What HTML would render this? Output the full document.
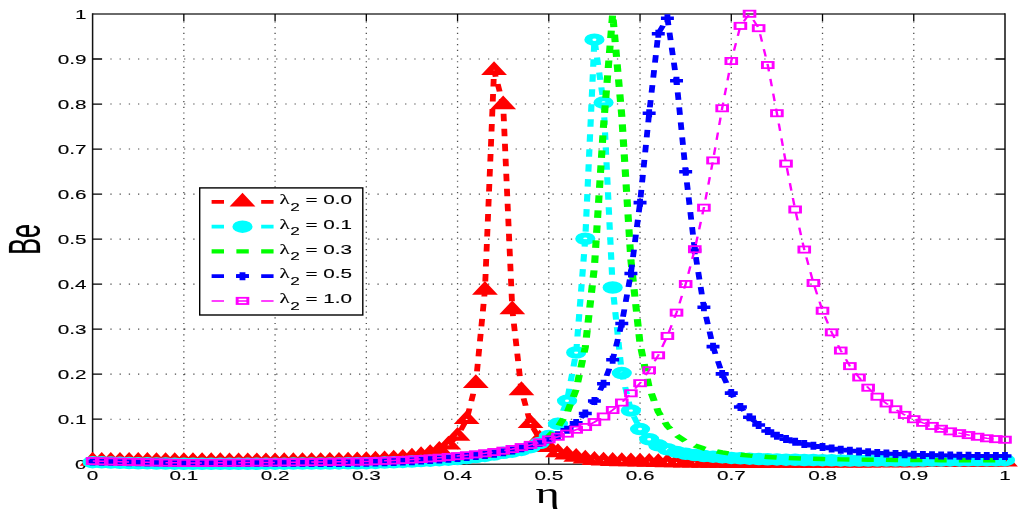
<!DOCTYPE html>
<html><head><meta charset="utf-8"><title>Be vs eta</title>
<style>
html,body{margin:0;padding:0;background:#fff;}
body{width:1024px;height:521px;overflow:hidden;}
svg{display:block}
text{font-family:"Liberation Sans",sans-serif;fill:#000;stroke:#000;stroke-width:0.12px}
.sym{font-family:"Liberation Serif",serif}
</style></head><body>
<svg width="1024" height="521" viewBox="0 0 1024 521">
<rect width="1024" height="521" fill="#fff"/>
<defs><clipPath id="ax"><rect x="57.160" y="13.4" width="563.210" height="458.2"/></clipPath></defs>

<g stroke="#000" stroke-opacity="0.7" fill="none"><line x1="183.84" y1="21.34" x2="183.84" y2="457.2" stroke-dasharray="1.2 4.49" stroke-width="1.3"/><line x1="110.35" y1="419.18" x2="995.0" y2="419.18" stroke-dasharray="1.3 7.91" stroke-width="1.1"/><line x1="275.08" y1="21.34" x2="275.08" y2="457.2" stroke-dasharray="1.2 4.49" stroke-width="1.3"/><line x1="110.35" y1="374.16" x2="995.0" y2="374.16" stroke-dasharray="1.3 7.91" stroke-width="1.1"/><line x1="366.32" y1="21.34" x2="366.32" y2="457.2" stroke-dasharray="1.2 4.49" stroke-width="1.3"/><line x1="110.35" y1="329.14" x2="995.0" y2="329.14" stroke-dasharray="1.3 7.91" stroke-width="1.1"/><line x1="457.56" y1="21.34" x2="457.56" y2="457.2" stroke-dasharray="1.2 4.49" stroke-width="1.3"/><line x1="110.35" y1="284.12" x2="995.0" y2="284.12" stroke-dasharray="1.3 7.91" stroke-width="1.1"/><line x1="548.80" y1="21.34" x2="548.80" y2="457.2" stroke-dasharray="1.2 4.49" stroke-width="1.3"/><line x1="110.35" y1="239.10" x2="995.0" y2="239.10" stroke-dasharray="1.3 7.91" stroke-width="1.1"/><line x1="640.04" y1="21.34" x2="640.04" y2="457.2" stroke-dasharray="1.2 4.49" stroke-width="1.3"/><line x1="110.35" y1="194.08" x2="995.0" y2="194.08" stroke-dasharray="1.3 7.91" stroke-width="1.1"/><line x1="731.28" y1="21.34" x2="731.28" y2="457.2" stroke-dasharray="1.2 4.49" stroke-width="1.3"/><line x1="110.35" y1="149.06" x2="995.0" y2="149.06" stroke-dasharray="1.3 7.91" stroke-width="1.1"/><line x1="822.52" y1="21.34" x2="822.52" y2="457.2" stroke-dasharray="1.2 4.49" stroke-width="1.3"/><line x1="110.35" y1="104.04" x2="995.0" y2="104.04" stroke-dasharray="1.3 7.91" stroke-width="1.1"/><line x1="913.76" y1="21.34" x2="913.76" y2="457.2" stroke-dasharray="1.2 4.49" stroke-width="1.3"/><line x1="110.35" y1="59.02" x2="995.0" y2="59.02" stroke-dasharray="1.3 7.91" stroke-width="1.1"/></g>
<g stroke="#111" stroke-width="1.5" fill="none"><path d="M92.6 14.0H1005.0M92.6 464.2H1005.0" stroke="#3a3a3a"/><path d="M92.6 13.3V464.9M1005.0 13.3V464.9"/><path stroke-width="1.3" stroke="#000" d="M183.84 464.2v-7M183.84 14.0v7M92.6 419.18h9.5M1005.0 419.18h-9.5"/><path stroke-width="1.3" stroke="#000" d="M275.08 464.2v-7M275.08 14.0v7M92.6 374.16h9.5M1005.0 374.16h-9.5"/><path stroke-width="1.3" stroke="#000" d="M366.32 464.2v-7M366.32 14.0v7M92.6 329.14h9.5M1005.0 329.14h-9.5"/><path stroke-width="1.3" stroke="#000" d="M457.56 464.2v-7M457.56 14.0v7M92.6 284.12h9.5M1005.0 284.12h-9.5"/><path stroke-width="1.3" stroke="#000" d="M548.80 464.2v-7M548.80 14.0v7M92.6 239.10h9.5M1005.0 239.10h-9.5"/><path stroke-width="1.3" stroke="#000" d="M640.04 464.2v-7M640.04 14.0v7M92.6 194.08h9.5M1005.0 194.08h-9.5"/><path stroke-width="1.3" stroke="#000" d="M731.28 464.2v-7M731.28 14.0v7M92.6 149.06h9.5M1005.0 149.06h-9.5"/><path stroke-width="1.3" stroke="#000" d="M822.52 464.2v-7M822.52 14.0v7M92.6 104.04h9.5M1005.0 104.04h-9.5"/><path stroke-width="1.3" stroke="#000" d="M913.76 464.2v-7M913.76 14.0v7M92.6 59.02h9.5M1005.0 59.02h-9.5"/></g>
<text transform="translate(92.60 480) scale(1.67 1)" font-size="12.4" text-anchor="middle">0</text>
<text transform="translate(86.6 468.70) scale(1.67 1)" font-size="12.4" text-anchor="end">0</text>
<text transform="translate(183.84 480) scale(1.67 1)" font-size="12.4" text-anchor="middle">0.1</text>
<text transform="translate(86.6 423.68) scale(1.67 1)" font-size="12.4" text-anchor="end">0.1</text>
<text transform="translate(275.08 480) scale(1.67 1)" font-size="12.4" text-anchor="middle">0.2</text>
<text transform="translate(86.6 378.66) scale(1.67 1)" font-size="12.4" text-anchor="end">0.2</text>
<text transform="translate(366.32 480) scale(1.67 1)" font-size="12.4" text-anchor="middle">0.3</text>
<text transform="translate(86.6 333.64) scale(1.67 1)" font-size="12.4" text-anchor="end">0.3</text>
<text transform="translate(457.56 480) scale(1.67 1)" font-size="12.4" text-anchor="middle">0.4</text>
<text transform="translate(86.6 288.62) scale(1.67 1)" font-size="12.4" text-anchor="end">0.4</text>
<text transform="translate(548.80 480) scale(1.67 1)" font-size="12.4" text-anchor="middle">0.5</text>
<text transform="translate(86.6 243.60) scale(1.67 1)" font-size="12.4" text-anchor="end">0.5</text>
<text transform="translate(640.04 480) scale(1.67 1)" font-size="12.4" text-anchor="middle">0.6</text>
<text transform="translate(86.6 198.58) scale(1.67 1)" font-size="12.4" text-anchor="end">0.6</text>
<text transform="translate(731.28 480) scale(1.67 1)" font-size="12.4" text-anchor="middle">0.7</text>
<text transform="translate(86.6 153.56) scale(1.67 1)" font-size="12.4" text-anchor="end">0.7</text>
<text transform="translate(822.52 480) scale(1.67 1)" font-size="12.4" text-anchor="middle">0.8</text>
<text transform="translate(86.6 108.54) scale(1.67 1)" font-size="12.4" text-anchor="end">0.8</text>
<text transform="translate(913.76 480) scale(1.67 1)" font-size="12.4" text-anchor="middle">0.9</text>
<text transform="translate(86.6 63.52) scale(1.67 1)" font-size="12.4" text-anchor="end">0.9</text>
<text transform="translate(1005.00 480) scale(1.67 1)" font-size="12.4" text-anchor="middle">1</text>
<text transform="translate(86.6 18.50) scale(1.67 1)" font-size="12.4" text-anchor="end">1</text>
<text class="sym" transform="translate(547.6 503.1) scale(1.59 1)" font-size="29" text-anchor="middle">η</text>
<text transform="translate(39.8 239.3) scale(1.73 1) rotate(-90)" font-size="25.2" text-anchor="middle">Be</text>
<g transform="scale(1.62 1)">
<polyline clip-path="url(#ax)" points="57.16,461.03 62.79,461.08 68.42,461.12 74.06,461.17 79.69,461.21 85.32,461.26 90.95,461.30 96.59,461.34 102.22,461.38 107.85,461.41 113.48,461.45 119.11,461.48 124.75,461.51 130.38,461.54 136.01,461.56 141.64,461.58 147.27,461.59 152.91,461.60 158.54,461.60 164.17,461.60 169.80,461.58 175.43,461.56 181.07,461.53 186.70,461.48 192.33,461.42 197.96,461.33 203.60,461.23 209.23,461.09 214.86,460.91 220.49,460.69 226.12,460.41 231.76,460.04 237.39,459.58 243.02,458.96 248.65,458.15 254.28,457.06 259.92,455.53 265.55,453.35 271.18,450.09 276.81,444.92 282.44,436.13 288.08,419.49 293.71,383.42 299.34,290.24 304.97,70.42 310.60,104.67 316.24,309.69 321.87,390.54 327.50,423.49 333.13,438.90 338.77,447.38 344.40,452.56 350.03,454.79 355.66,457.18 361.29,458.94 366.93,460.31 372.56,460.90 378.19,461.30 383.82,461.57 389.45,461.74 395.09,461.83 400.72,462.11 406.35,462.34 411.98,462.53 417.61,462.70 423.25,462.84 428.88,462.96 434.51,463.07 440.14,463.16 445.78,463.25 451.41,463.32 457.04,463.31 462.67,463.30 468.30,463.29 473.94,463.26 479.57,463.24 485.20,463.21 490.83,463.17 496.46,463.14 502.10,463.10 507.73,463.05 513.36,463.01 518.99,462.96 524.62,462.92 530.26,462.87 535.89,462.81 541.52,462.76 547.15,462.71 552.79,462.65 558.42,462.60 564.05,462.54 569.68,462.48 575.31,462.43 580.95,462.37 586.58,462.31 592.21,462.25 597.84,462.19 603.47,462.13 609.11,462.07 614.74,462.01 620.37,461.94" fill="none" stroke="#ff0000" stroke-width="3.6" stroke-dasharray="7.5 7.5"/>
<g><path d="M52.83 463.53L61.49 463.53L57.16 456.03Z" fill="none" stroke="#ff0000" stroke-width="4.2" stroke-linejoin="miter" stroke-miterlimit="10"/><path d="M58.46 463.58L67.12 463.58L62.79 456.08Z" fill="none" stroke="#ff0000" stroke-width="4.2" stroke-linejoin="miter" stroke-miterlimit="10"/><path d="M64.09 463.62L72.75 463.62L68.42 456.12Z" fill="none" stroke="#ff0000" stroke-width="4.2" stroke-linejoin="miter" stroke-miterlimit="10"/><path d="M69.73 463.67L78.39 463.67L74.06 456.17Z" fill="none" stroke="#ff0000" stroke-width="4.2" stroke-linejoin="miter" stroke-miterlimit="10"/><path d="M75.36 463.71L84.02 463.71L79.69 456.21Z" fill="none" stroke="#ff0000" stroke-width="4.2" stroke-linejoin="miter" stroke-miterlimit="10"/><path d="M80.99 463.76L89.65 463.76L85.32 456.26Z" fill="none" stroke="#ff0000" stroke-width="4.2" stroke-linejoin="miter" stroke-miterlimit="10"/><path d="M86.62 463.80L95.28 463.80L90.95 456.30Z" fill="none" stroke="#ff0000" stroke-width="4.2" stroke-linejoin="miter" stroke-miterlimit="10"/><path d="M92.26 463.84L100.92 463.84L96.59 456.34Z" fill="none" stroke="#ff0000" stroke-width="4.2" stroke-linejoin="miter" stroke-miterlimit="10"/><path d="M97.89 463.88L106.55 463.88L102.22 456.38Z" fill="none" stroke="#ff0000" stroke-width="4.2" stroke-linejoin="miter" stroke-miterlimit="10"/><path d="M103.52 463.91L112.18 463.91L107.85 456.41Z" fill="none" stroke="#ff0000" stroke-width="4.2" stroke-linejoin="miter" stroke-miterlimit="10"/><path d="M109.15 463.95L117.81 463.95L113.48 456.45Z" fill="none" stroke="#ff0000" stroke-width="4.2" stroke-linejoin="miter" stroke-miterlimit="10"/><path d="M114.78 463.98L123.44 463.98L119.11 456.48Z" fill="none" stroke="#ff0000" stroke-width="4.2" stroke-linejoin="miter" stroke-miterlimit="10"/><path d="M120.42 464.01L129.08 464.01L124.75 456.51Z" fill="none" stroke="#ff0000" stroke-width="4.2" stroke-linejoin="miter" stroke-miterlimit="10"/><path d="M126.05 464.04L134.71 464.04L130.38 456.54Z" fill="none" stroke="#ff0000" stroke-width="4.2" stroke-linejoin="miter" stroke-miterlimit="10"/><path d="M131.68 464.06L140.34 464.06L136.01 456.56Z" fill="none" stroke="#ff0000" stroke-width="4.2" stroke-linejoin="miter" stroke-miterlimit="10"/><path d="M137.31 464.08L145.97 464.08L141.64 456.58Z" fill="none" stroke="#ff0000" stroke-width="4.2" stroke-linejoin="miter" stroke-miterlimit="10"/><path d="M142.94 464.09L151.60 464.09L147.27 456.59Z" fill="none" stroke="#ff0000" stroke-width="4.2" stroke-linejoin="miter" stroke-miterlimit="10"/><path d="M148.58 464.10L157.24 464.10L152.91 456.60Z" fill="none" stroke="#ff0000" stroke-width="4.2" stroke-linejoin="miter" stroke-miterlimit="10"/><path d="M154.21 464.10L162.87 464.10L158.54 456.60Z" fill="none" stroke="#ff0000" stroke-width="4.2" stroke-linejoin="miter" stroke-miterlimit="10"/><path d="M159.84 464.10L168.50 464.10L164.17 456.60Z" fill="none" stroke="#ff0000" stroke-width="4.2" stroke-linejoin="miter" stroke-miterlimit="10"/><path d="M165.47 464.08L174.13 464.08L169.80 456.58Z" fill="none" stroke="#ff0000" stroke-width="4.2" stroke-linejoin="miter" stroke-miterlimit="10"/><path d="M171.10 464.06L179.76 464.06L175.43 456.56Z" fill="none" stroke="#ff0000" stroke-width="4.2" stroke-linejoin="miter" stroke-miterlimit="10"/><path d="M176.74 464.03L185.40 464.03L181.07 456.53Z" fill="none" stroke="#ff0000" stroke-width="4.2" stroke-linejoin="miter" stroke-miterlimit="10"/><path d="M182.37 463.98L191.03 463.98L186.70 456.48Z" fill="none" stroke="#ff0000" stroke-width="4.2" stroke-linejoin="miter" stroke-miterlimit="10"/><path d="M188.00 463.92L196.66 463.92L192.33 456.42Z" fill="none" stroke="#ff0000" stroke-width="4.2" stroke-linejoin="miter" stroke-miterlimit="10"/><path d="M193.63 463.83L202.29 463.83L197.96 456.33Z" fill="none" stroke="#ff0000" stroke-width="4.2" stroke-linejoin="miter" stroke-miterlimit="10"/><path d="M199.26 463.73L207.93 463.73L203.60 456.23Z" fill="none" stroke="#ff0000" stroke-width="4.2" stroke-linejoin="miter" stroke-miterlimit="10"/><path d="M204.90 463.59L213.56 463.59L209.23 456.09Z" fill="none" stroke="#ff0000" stroke-width="4.2" stroke-linejoin="miter" stroke-miterlimit="10"/><path d="M210.53 463.41L219.19 463.41L214.86 455.91Z" fill="none" stroke="#ff0000" stroke-width="4.2" stroke-linejoin="miter" stroke-miterlimit="10"/><path d="M216.16 463.19L224.82 463.19L220.49 455.69Z" fill="none" stroke="#ff0000" stroke-width="4.2" stroke-linejoin="miter" stroke-miterlimit="10"/><path d="M221.79 462.91L230.45 462.91L226.12 455.41Z" fill="none" stroke="#ff0000" stroke-width="4.2" stroke-linejoin="miter" stroke-miterlimit="10"/><path d="M227.43 462.54L236.09 462.54L231.76 455.04Z" fill="none" stroke="#ff0000" stroke-width="4.2" stroke-linejoin="miter" stroke-miterlimit="10"/><path d="M233.06 462.08L241.72 462.08L237.39 454.58Z" fill="none" stroke="#ff0000" stroke-width="4.2" stroke-linejoin="miter" stroke-miterlimit="10"/><path d="M238.69 461.46L247.35 461.46L243.02 453.96Z" fill="none" stroke="#ff0000" stroke-width="4.2" stroke-linejoin="miter" stroke-miterlimit="10"/><path d="M244.32 460.65L252.98 460.65L248.65 453.15Z" fill="none" stroke="#ff0000" stroke-width="4.2" stroke-linejoin="miter" stroke-miterlimit="10"/><path d="M249.95 459.56L258.61 459.56L254.28 452.06Z" fill="none" stroke="#ff0000" stroke-width="4.2" stroke-linejoin="miter" stroke-miterlimit="10"/><path d="M255.59 458.03L264.25 458.03L259.92 450.53Z" fill="none" stroke="#ff0000" stroke-width="4.2" stroke-linejoin="miter" stroke-miterlimit="10"/><path d="M261.22 455.85L269.88 455.85L265.55 448.35Z" fill="none" stroke="#ff0000" stroke-width="4.2" stroke-linejoin="miter" stroke-miterlimit="10"/><path d="M266.85 452.59L275.51 452.59L271.18 445.09Z" fill="none" stroke="#ff0000" stroke-width="4.2" stroke-linejoin="miter" stroke-miterlimit="10"/><path d="M272.48 447.42L281.14 447.42L276.81 439.92Z" fill="none" stroke="#ff0000" stroke-width="4.2" stroke-linejoin="miter" stroke-miterlimit="10"/><path d="M278.11 438.63L286.77 438.63L282.44 431.13Z" fill="none" stroke="#ff0000" stroke-width="4.2" stroke-linejoin="miter" stroke-miterlimit="10"/><path d="M283.75 421.99L292.41 421.99L288.08 414.49Z" fill="none" stroke="#ff0000" stroke-width="4.2" stroke-linejoin="miter" stroke-miterlimit="10"/><path d="M289.38 385.92L298.04 385.92L293.71 378.42Z" fill="none" stroke="#ff0000" stroke-width="4.2" stroke-linejoin="miter" stroke-miterlimit="10"/><path d="M295.01 292.74L303.67 292.74L299.34 285.24Z" fill="none" stroke="#ff0000" stroke-width="4.2" stroke-linejoin="miter" stroke-miterlimit="10"/><path d="M300.64 72.92L309.30 72.92L304.97 65.42Z" fill="none" stroke="#ff0000" stroke-width="4.2" stroke-linejoin="miter" stroke-miterlimit="10"/><path d="M306.27 107.17L314.94 107.17L310.60 99.67Z" fill="none" stroke="#ff0000" stroke-width="4.2" stroke-linejoin="miter" stroke-miterlimit="10"/><path d="M311.91 312.19L320.57 312.19L316.24 304.69Z" fill="none" stroke="#ff0000" stroke-width="4.2" stroke-linejoin="miter" stroke-miterlimit="10"/><path d="M317.54 393.04L326.20 393.04L321.87 385.54Z" fill="none" stroke="#ff0000" stroke-width="4.2" stroke-linejoin="miter" stroke-miterlimit="10"/><path d="M323.17 425.99L331.83 425.99L327.50 418.49Z" fill="none" stroke="#ff0000" stroke-width="4.2" stroke-linejoin="miter" stroke-miterlimit="10"/><path d="M328.80 441.40L337.46 441.40L333.13 433.90Z" fill="none" stroke="#ff0000" stroke-width="4.2" stroke-linejoin="miter" stroke-miterlimit="10"/><path d="M334.44 449.88L343.10 449.88L338.77 442.38Z" fill="none" stroke="#ff0000" stroke-width="4.2" stroke-linejoin="miter" stroke-miterlimit="10"/><path d="M340.07 455.06L348.73 455.06L344.40 447.56Z" fill="none" stroke="#ff0000" stroke-width="4.2" stroke-linejoin="miter" stroke-miterlimit="10"/><path d="M345.70 457.29L354.36 457.29L350.03 449.79Z" fill="none" stroke="#ff0000" stroke-width="4.2" stroke-linejoin="miter" stroke-miterlimit="10"/><path d="M351.33 459.68L359.99 459.68L355.66 452.18Z" fill="none" stroke="#ff0000" stroke-width="4.2" stroke-linejoin="miter" stroke-miterlimit="10"/><path d="M356.96 461.44L365.62 461.44L361.29 453.94Z" fill="none" stroke="#ff0000" stroke-width="4.2" stroke-linejoin="miter" stroke-miterlimit="10"/><path d="M362.60 462.81L371.26 462.81L366.93 455.31Z" fill="none" stroke="#ff0000" stroke-width="4.2" stroke-linejoin="miter" stroke-miterlimit="10"/><path d="M368.23 463.40L376.89 463.40L372.56 455.90Z" fill="none" stroke="#ff0000" stroke-width="4.2" stroke-linejoin="miter" stroke-miterlimit="10"/><path d="M373.86 463.80L382.52 463.80L378.19 456.30Z" fill="none" stroke="#ff0000" stroke-width="4.2" stroke-linejoin="miter" stroke-miterlimit="10"/><path d="M379.49 464.07L388.15 464.07L383.82 456.57Z" fill="none" stroke="#ff0000" stroke-width="4.2" stroke-linejoin="miter" stroke-miterlimit="10"/><path d="M385.12 464.24L393.78 464.24L389.45 456.74Z" fill="none" stroke="#ff0000" stroke-width="4.2" stroke-linejoin="miter" stroke-miterlimit="10"/><path d="M390.76 464.33L399.42 464.33L395.09 456.83Z" fill="none" stroke="#ff0000" stroke-width="4.2" stroke-linejoin="miter" stroke-miterlimit="10"/><path d="M396.39 464.61L405.05 464.61L400.72 457.11Z" fill="none" stroke="#ff0000" stroke-width="4.2" stroke-linejoin="miter" stroke-miterlimit="10"/><path d="M402.02 464.84L410.68 464.84L406.35 457.34Z" fill="none" stroke="#ff0000" stroke-width="4.2" stroke-linejoin="miter" stroke-miterlimit="10"/><path d="M407.65 465.03L416.31 465.03L411.98 457.53Z" fill="none" stroke="#ff0000" stroke-width="4.2" stroke-linejoin="miter" stroke-miterlimit="10"/><path d="M413.28 465.20L421.94 465.20L417.61 457.70Z" fill="none" stroke="#ff0000" stroke-width="4.2" stroke-linejoin="miter" stroke-miterlimit="10"/><path d="M418.92 465.34L427.58 465.34L423.25 457.84Z" fill="none" stroke="#ff0000" stroke-width="4.2" stroke-linejoin="miter" stroke-miterlimit="10"/><path d="M424.55 465.46L433.21 465.46L428.88 457.96Z" fill="none" stroke="#ff0000" stroke-width="4.2" stroke-linejoin="miter" stroke-miterlimit="10"/><path d="M430.18 465.57L438.84 465.57L434.51 458.07Z" fill="none" stroke="#ff0000" stroke-width="4.2" stroke-linejoin="miter" stroke-miterlimit="10"/><path d="M435.81 465.66L444.47 465.66L440.14 458.16Z" fill="none" stroke="#ff0000" stroke-width="4.2" stroke-linejoin="miter" stroke-miterlimit="10"/><path d="M441.45 465.75L450.11 465.75L445.78 458.25Z" fill="none" stroke="#ff0000" stroke-width="4.2" stroke-linejoin="miter" stroke-miterlimit="10"/><path d="M447.08 465.82L455.74 465.82L451.41 458.32Z" fill="none" stroke="#ff0000" stroke-width="4.2" stroke-linejoin="miter" stroke-miterlimit="10"/><path d="M452.71 465.81L461.37 465.81L457.04 458.31Z" fill="none" stroke="#ff0000" stroke-width="4.2" stroke-linejoin="miter" stroke-miterlimit="10"/><path d="M458.34 465.80L467.00 465.80L462.67 458.30Z" fill="none" stroke="#ff0000" stroke-width="4.2" stroke-linejoin="miter" stroke-miterlimit="10"/><path d="M463.97 465.79L472.63 465.79L468.30 458.29Z" fill="none" stroke="#ff0000" stroke-width="4.2" stroke-linejoin="miter" stroke-miterlimit="10"/><path d="M469.61 465.76L478.27 465.76L473.94 458.26Z" fill="none" stroke="#ff0000" stroke-width="4.2" stroke-linejoin="miter" stroke-miterlimit="10"/><path d="M475.24 465.74L483.90 465.74L479.57 458.24Z" fill="none" stroke="#ff0000" stroke-width="4.2" stroke-linejoin="miter" stroke-miterlimit="10"/><path d="M480.87 465.71L489.53 465.71L485.20 458.21Z" fill="none" stroke="#ff0000" stroke-width="4.2" stroke-linejoin="miter" stroke-miterlimit="10"/><path d="M486.50 465.67L495.16 465.67L490.83 458.17Z" fill="none" stroke="#ff0000" stroke-width="4.2" stroke-linejoin="miter" stroke-miterlimit="10"/><path d="M492.13 465.64L500.79 465.64L496.46 458.14Z" fill="none" stroke="#ff0000" stroke-width="4.2" stroke-linejoin="miter" stroke-miterlimit="10"/><path d="M497.77 465.60L506.43 465.60L502.10 458.10Z" fill="none" stroke="#ff0000" stroke-width="4.2" stroke-linejoin="miter" stroke-miterlimit="10"/><path d="M503.40 465.55L512.06 465.55L507.73 458.05Z" fill="none" stroke="#ff0000" stroke-width="4.2" stroke-linejoin="miter" stroke-miterlimit="10"/><path d="M509.03 465.51L517.69 465.51L513.36 458.01Z" fill="none" stroke="#ff0000" stroke-width="4.2" stroke-linejoin="miter" stroke-miterlimit="10"/><path d="M514.66 465.46L523.32 465.46L518.99 457.96Z" fill="none" stroke="#ff0000" stroke-width="4.2" stroke-linejoin="miter" stroke-miterlimit="10"/><path d="M520.29 465.42L528.95 465.42L524.62 457.92Z" fill="none" stroke="#ff0000" stroke-width="4.2" stroke-linejoin="miter" stroke-miterlimit="10"/><path d="M525.93 465.37L534.59 465.37L530.26 457.87Z" fill="none" stroke="#ff0000" stroke-width="4.2" stroke-linejoin="miter" stroke-miterlimit="10"/><path d="M531.56 465.31L540.22 465.31L535.89 457.81Z" fill="none" stroke="#ff0000" stroke-width="4.2" stroke-linejoin="miter" stroke-miterlimit="10"/><path d="M537.19 465.26L545.85 465.26L541.52 457.76Z" fill="none" stroke="#ff0000" stroke-width="4.2" stroke-linejoin="miter" stroke-miterlimit="10"/><path d="M542.82 465.21L551.48 465.21L547.15 457.71Z" fill="none" stroke="#ff0000" stroke-width="4.2" stroke-linejoin="miter" stroke-miterlimit="10"/><path d="M548.46 465.15L557.12 465.15L552.79 457.65Z" fill="none" stroke="#ff0000" stroke-width="4.2" stroke-linejoin="miter" stroke-miterlimit="10"/><path d="M554.09 465.10L562.75 465.10L558.42 457.60Z" fill="none" stroke="#ff0000" stroke-width="4.2" stroke-linejoin="miter" stroke-miterlimit="10"/><path d="M559.72 465.04L568.38 465.04L564.05 457.54Z" fill="none" stroke="#ff0000" stroke-width="4.2" stroke-linejoin="miter" stroke-miterlimit="10"/><path d="M565.35 464.98L574.01 464.98L569.68 457.48Z" fill="none" stroke="#ff0000" stroke-width="4.2" stroke-linejoin="miter" stroke-miterlimit="10"/><path d="M570.98 464.93L579.64 464.93L575.31 457.43Z" fill="none" stroke="#ff0000" stroke-width="4.2" stroke-linejoin="miter" stroke-miterlimit="10"/><path d="M576.62 464.87L585.28 464.87L580.95 457.37Z" fill="none" stroke="#ff0000" stroke-width="4.2" stroke-linejoin="miter" stroke-miterlimit="10"/><path d="M582.25 464.81L590.91 464.81L586.58 457.31Z" fill="none" stroke="#ff0000" stroke-width="4.2" stroke-linejoin="miter" stroke-miterlimit="10"/><path d="M587.88 464.75L596.54 464.75L592.21 457.25Z" fill="none" stroke="#ff0000" stroke-width="4.2" stroke-linejoin="miter" stroke-miterlimit="10"/><path d="M593.51 464.69L602.17 464.69L597.84 457.19Z" fill="none" stroke="#ff0000" stroke-width="4.2" stroke-linejoin="miter" stroke-miterlimit="10"/><path d="M599.14 464.63L607.80 464.63L603.47 457.13Z" fill="none" stroke="#ff0000" stroke-width="4.2" stroke-linejoin="miter" stroke-miterlimit="10"/><path d="M604.78 464.57L613.44 464.57L609.11 457.07Z" fill="none" stroke="#ff0000" stroke-width="4.2" stroke-linejoin="miter" stroke-miterlimit="10"/><path d="M610.41 464.51L619.07 464.51L614.74 457.01Z" fill="none" stroke="#ff0000" stroke-width="4.2" stroke-linejoin="miter" stroke-miterlimit="10"/><path d="M616.04 464.44L624.70 464.44L620.37 456.94Z" fill="none" stroke="#ff0000" stroke-width="4.2" stroke-linejoin="miter" stroke-miterlimit="10"/></g>
<polyline clip-path="url(#ax)" points="57.16,462.14 62.79,462.36 68.42,462.57 74.06,462.79 79.69,463.00 85.32,463.21 90.95,463.33 96.59,463.46 102.22,463.58 107.85,463.70 113.48,463.81 119.11,463.81 124.75,463.80 130.38,463.79 136.01,463.78 141.64,463.77 147.27,463.75 152.91,463.74 158.54,463.72 164.17,463.70 169.80,463.68 175.43,463.65 181.07,463.62 186.70,463.59 192.33,463.55 197.96,463.51 203.60,463.46 209.23,463.40 214.86,463.34 220.49,463.27 226.12,463.19 231.76,462.88 237.39,462.57 243.02,462.23 248.65,461.88 254.28,461.50 259.92,461.09 265.55,460.66 271.18,460.18 276.81,459.64 282.44,459.05 288.08,458.12 293.71,457.07 299.34,455.89 304.97,454.50 310.60,452.83 316.24,451.66 321.87,449.90 327.50,447.20 333.13,442.99 338.77,436.12 344.40,423.80 350.03,400.85 355.66,352.50 361.29,238.76 366.93,39.66 372.56,102.56 378.19,287.46 383.82,373.08 389.45,410.48 395.09,429.06 400.72,439.21 406.35,445.32 411.98,449.24 417.61,451.88 423.25,453.71 428.88,455.02 434.51,455.98 440.14,456.69 445.78,457.36 451.41,457.90 457.04,458.34 462.67,458.69 468.30,458.99 473.94,459.24 479.57,459.45 485.20,459.65 490.83,459.81 496.46,459.96 502.10,460.09 507.73,460.20 513.36,460.30 518.99,460.38 524.62,460.46 530.26,460.53 535.89,460.60 541.52,460.60 547.15,460.59 552.79,460.58 558.42,460.56 564.05,460.54 569.68,460.52 575.31,460.49 580.95,460.46 586.58,460.43 592.21,460.40 597.84,460.36 603.47,460.32 609.11,460.28 614.74,460.24 620.37,460.20" fill="none" stroke="#00ffff" stroke-width="3.8" stroke-dasharray="7.5 7.5"/>
<g><circle cx="57.16" cy="462.14" r="3.75" fill="none" stroke="#00ffff" stroke-width="5.0"/><circle cx="62.79" cy="462.36" r="3.75" fill="none" stroke="#00ffff" stroke-width="5.0"/><circle cx="68.42" cy="462.57" r="3.75" fill="none" stroke="#00ffff" stroke-width="5.0"/><circle cx="74.06" cy="462.79" r="3.75" fill="none" stroke="#00ffff" stroke-width="5.0"/><circle cx="79.69" cy="463.00" r="3.75" fill="none" stroke="#00ffff" stroke-width="5.0"/><circle cx="85.32" cy="463.21" r="3.75" fill="none" stroke="#00ffff" stroke-width="5.0"/><circle cx="90.95" cy="463.33" r="3.75" fill="none" stroke="#00ffff" stroke-width="5.0"/><circle cx="96.59" cy="463.46" r="3.75" fill="none" stroke="#00ffff" stroke-width="5.0"/><circle cx="102.22" cy="463.58" r="3.75" fill="none" stroke="#00ffff" stroke-width="5.0"/><circle cx="107.85" cy="463.70" r="3.75" fill="none" stroke="#00ffff" stroke-width="5.0"/><circle cx="113.48" cy="463.81" r="3.75" fill="none" stroke="#00ffff" stroke-width="5.0"/><circle cx="119.11" cy="463.81" r="3.75" fill="none" stroke="#00ffff" stroke-width="5.0"/><circle cx="124.75" cy="463.80" r="3.75" fill="none" stroke="#00ffff" stroke-width="5.0"/><circle cx="130.38" cy="463.79" r="3.75" fill="none" stroke="#00ffff" stroke-width="5.0"/><circle cx="136.01" cy="463.78" r="3.75" fill="none" stroke="#00ffff" stroke-width="5.0"/><circle cx="141.64" cy="463.77" r="3.75" fill="none" stroke="#00ffff" stroke-width="5.0"/><circle cx="147.27" cy="463.75" r="3.75" fill="none" stroke="#00ffff" stroke-width="5.0"/><circle cx="152.91" cy="463.74" r="3.75" fill="none" stroke="#00ffff" stroke-width="5.0"/><circle cx="158.54" cy="463.72" r="3.75" fill="none" stroke="#00ffff" stroke-width="5.0"/><circle cx="164.17" cy="463.70" r="3.75" fill="none" stroke="#00ffff" stroke-width="5.0"/><circle cx="169.80" cy="463.68" r="3.75" fill="none" stroke="#00ffff" stroke-width="5.0"/><circle cx="175.43" cy="463.65" r="3.75" fill="none" stroke="#00ffff" stroke-width="5.0"/><circle cx="181.07" cy="463.62" r="3.75" fill="none" stroke="#00ffff" stroke-width="5.0"/><circle cx="186.70" cy="463.59" r="3.75" fill="none" stroke="#00ffff" stroke-width="5.0"/><circle cx="192.33" cy="463.55" r="3.75" fill="none" stroke="#00ffff" stroke-width="5.0"/><circle cx="197.96" cy="463.51" r="3.75" fill="none" stroke="#00ffff" stroke-width="5.0"/><circle cx="203.60" cy="463.46" r="3.75" fill="none" stroke="#00ffff" stroke-width="5.0"/><circle cx="209.23" cy="463.40" r="3.75" fill="none" stroke="#00ffff" stroke-width="5.0"/><circle cx="214.86" cy="463.34" r="3.75" fill="none" stroke="#00ffff" stroke-width="5.0"/><circle cx="220.49" cy="463.27" r="3.75" fill="none" stroke="#00ffff" stroke-width="5.0"/><circle cx="226.12" cy="463.19" r="3.75" fill="none" stroke="#00ffff" stroke-width="5.0"/><circle cx="231.76" cy="462.88" r="3.75" fill="none" stroke="#00ffff" stroke-width="5.0"/><circle cx="237.39" cy="462.57" r="3.75" fill="none" stroke="#00ffff" stroke-width="5.0"/><circle cx="243.02" cy="462.23" r="3.75" fill="none" stroke="#00ffff" stroke-width="5.0"/><circle cx="248.65" cy="461.88" r="3.75" fill="none" stroke="#00ffff" stroke-width="5.0"/><circle cx="254.28" cy="461.50" r="3.75" fill="none" stroke="#00ffff" stroke-width="5.0"/><circle cx="259.92" cy="461.09" r="3.75" fill="none" stroke="#00ffff" stroke-width="5.0"/><circle cx="265.55" cy="460.66" r="3.75" fill="none" stroke="#00ffff" stroke-width="5.0"/><circle cx="271.18" cy="460.18" r="3.75" fill="none" stroke="#00ffff" stroke-width="5.0"/><circle cx="276.81" cy="459.64" r="3.75" fill="none" stroke="#00ffff" stroke-width="5.0"/><circle cx="282.44" cy="459.05" r="3.75" fill="none" stroke="#00ffff" stroke-width="5.0"/><circle cx="288.08" cy="458.12" r="3.75" fill="none" stroke="#00ffff" stroke-width="5.0"/><circle cx="293.71" cy="457.07" r="3.75" fill="none" stroke="#00ffff" stroke-width="5.0"/><circle cx="299.34" cy="455.89" r="3.75" fill="none" stroke="#00ffff" stroke-width="5.0"/><circle cx="304.97" cy="454.50" r="3.75" fill="none" stroke="#00ffff" stroke-width="5.0"/><circle cx="310.60" cy="452.83" r="3.75" fill="none" stroke="#00ffff" stroke-width="5.0"/><circle cx="316.24" cy="451.66" r="3.75" fill="none" stroke="#00ffff" stroke-width="5.0"/><circle cx="321.87" cy="449.90" r="3.75" fill="none" stroke="#00ffff" stroke-width="5.0"/><circle cx="327.50" cy="447.20" r="3.75" fill="none" stroke="#00ffff" stroke-width="5.0"/><circle cx="333.13" cy="442.99" r="3.75" fill="none" stroke="#00ffff" stroke-width="5.0"/><circle cx="338.77" cy="436.12" r="3.75" fill="none" stroke="#00ffff" stroke-width="5.0"/><circle cx="344.40" cy="423.80" r="3.75" fill="none" stroke="#00ffff" stroke-width="5.0"/><circle cx="350.03" cy="400.85" r="3.75" fill="none" stroke="#00ffff" stroke-width="5.0"/><circle cx="355.66" cy="352.50" r="3.75" fill="none" stroke="#00ffff" stroke-width="5.0"/><circle cx="361.29" cy="238.76" r="3.75" fill="none" stroke="#00ffff" stroke-width="5.0"/><circle cx="366.93" cy="39.66" r="3.75" fill="none" stroke="#00ffff" stroke-width="5.0"/><circle cx="372.56" cy="102.56" r="3.75" fill="none" stroke="#00ffff" stroke-width="5.0"/><circle cx="378.19" cy="287.46" r="3.75" fill="none" stroke="#00ffff" stroke-width="5.0"/><circle cx="383.82" cy="373.08" r="3.75" fill="none" stroke="#00ffff" stroke-width="5.0"/><circle cx="389.45" cy="410.48" r="3.75" fill="none" stroke="#00ffff" stroke-width="5.0"/><circle cx="395.09" cy="429.06" r="3.75" fill="none" stroke="#00ffff" stroke-width="5.0"/><circle cx="400.72" cy="439.21" r="3.75" fill="none" stroke="#00ffff" stroke-width="5.0"/><circle cx="406.35" cy="445.32" r="3.75" fill="none" stroke="#00ffff" stroke-width="5.0"/><circle cx="411.98" cy="449.24" r="3.75" fill="none" stroke="#00ffff" stroke-width="5.0"/><circle cx="417.61" cy="451.88" r="3.75" fill="none" stroke="#00ffff" stroke-width="5.0"/><circle cx="423.25" cy="453.71" r="3.75" fill="none" stroke="#00ffff" stroke-width="5.0"/><circle cx="428.88" cy="455.02" r="3.75" fill="none" stroke="#00ffff" stroke-width="5.0"/><circle cx="434.51" cy="455.98" r="3.75" fill="none" stroke="#00ffff" stroke-width="5.0"/><circle cx="440.14" cy="456.69" r="3.75" fill="none" stroke="#00ffff" stroke-width="5.0"/><circle cx="445.78" cy="457.36" r="3.75" fill="none" stroke="#00ffff" stroke-width="5.0"/><circle cx="451.41" cy="457.90" r="3.75" fill="none" stroke="#00ffff" stroke-width="5.0"/><circle cx="457.04" cy="458.34" r="3.75" fill="none" stroke="#00ffff" stroke-width="5.0"/><circle cx="462.67" cy="458.69" r="3.75" fill="none" stroke="#00ffff" stroke-width="5.0"/><circle cx="468.30" cy="458.99" r="3.75" fill="none" stroke="#00ffff" stroke-width="5.0"/><circle cx="473.94" cy="459.24" r="3.75" fill="none" stroke="#00ffff" stroke-width="5.0"/><circle cx="479.57" cy="459.45" r="3.75" fill="none" stroke="#00ffff" stroke-width="5.0"/><circle cx="485.20" cy="459.65" r="3.75" fill="none" stroke="#00ffff" stroke-width="5.0"/><circle cx="490.83" cy="459.81" r="3.75" fill="none" stroke="#00ffff" stroke-width="5.0"/><circle cx="496.46" cy="459.96" r="3.75" fill="none" stroke="#00ffff" stroke-width="5.0"/><circle cx="502.10" cy="460.09" r="3.75" fill="none" stroke="#00ffff" stroke-width="5.0"/><circle cx="507.73" cy="460.20" r="3.75" fill="none" stroke="#00ffff" stroke-width="5.0"/><circle cx="513.36" cy="460.30" r="3.75" fill="none" stroke="#00ffff" stroke-width="5.0"/><circle cx="518.99" cy="460.38" r="3.75" fill="none" stroke="#00ffff" stroke-width="5.0"/><circle cx="524.62" cy="460.46" r="3.75" fill="none" stroke="#00ffff" stroke-width="5.0"/><circle cx="530.26" cy="460.53" r="3.75" fill="none" stroke="#00ffff" stroke-width="5.0"/><circle cx="535.89" cy="460.60" r="3.75" fill="none" stroke="#00ffff" stroke-width="5.0"/><circle cx="541.52" cy="460.60" r="3.75" fill="none" stroke="#00ffff" stroke-width="5.0"/><circle cx="547.15" cy="460.59" r="3.75" fill="none" stroke="#00ffff" stroke-width="5.0"/><circle cx="552.79" cy="460.58" r="3.75" fill="none" stroke="#00ffff" stroke-width="5.0"/><circle cx="558.42" cy="460.56" r="3.75" fill="none" stroke="#00ffff" stroke-width="5.0"/><circle cx="564.05" cy="460.54" r="3.75" fill="none" stroke="#00ffff" stroke-width="5.0"/><circle cx="569.68" cy="460.52" r="3.75" fill="none" stroke="#00ffff" stroke-width="5.0"/><circle cx="575.31" cy="460.49" r="3.75" fill="none" stroke="#00ffff" stroke-width="5.0"/><circle cx="580.95" cy="460.46" r="3.75" fill="none" stroke="#00ffff" stroke-width="5.0"/><circle cx="586.58" cy="460.43" r="3.75" fill="none" stroke="#00ffff" stroke-width="5.0"/><circle cx="592.21" cy="460.40" r="3.75" fill="none" stroke="#00ffff" stroke-width="5.0"/><circle cx="597.84" cy="460.36" r="3.75" fill="none" stroke="#00ffff" stroke-width="5.0"/><circle cx="603.47" cy="460.32" r="3.75" fill="none" stroke="#00ffff" stroke-width="5.0"/><circle cx="609.11" cy="460.28" r="3.75" fill="none" stroke="#00ffff" stroke-width="5.0"/><circle cx="614.74" cy="460.24" r="3.75" fill="none" stroke="#00ffff" stroke-width="5.0"/><circle cx="620.37" cy="460.20" r="3.75" fill="none" stroke="#00ffff" stroke-width="5.0"/></g>
<polyline clip-path="url(#ax)" points="57.16,461.51 62.79,461.56 68.42,461.61 74.06,461.66 79.69,461.71 85.32,461.76 90.95,461.80 96.59,461.85 102.22,461.89 107.85,461.93 113.48,461.97 119.11,462.01 124.75,462.05 130.38,462.08 136.01,462.12 141.64,462.15 147.27,462.18 152.91,462.20 158.54,462.22 164.17,462.24 169.80,462.25 175.43,462.19 181.07,462.13 186.70,462.06 192.33,461.98 197.96,461.90 203.60,461.81 209.23,461.71 214.86,461.60 220.49,461.47 226.12,461.34 231.76,461.18 237.39,461.01 243.02,460.82 248.65,460.60 254.28,460.35 259.92,460.06 265.55,459.73 271.18,459.35 276.81,458.91 282.44,458.38 288.08,457.78 293.71,457.05 299.34,456.16 304.97,455.05 310.60,453.67 316.24,451.89 321.87,449.57 327.50,446.47 333.13,442.20 338.77,436.13 344.40,427.11 350.03,412.99 355.66,389.44 361.29,347.20 366.93,266.80 372.56,125.60 378.19,13.81 383.82,115.85 389.45,260.22 395.09,343.85 400.72,387.56 406.35,411.75 411.98,426.13 417.61,435.24 423.25,441.31 428.88,445.52 434.51,448.53 440.14,450.75 445.78,452.41 451.41,453.67 457.04,454.78 462.67,455.67 468.30,456.40 473.94,457.00 479.57,457.49 485.20,457.91 490.83,458.26 496.46,458.55 502.10,458.81 507.73,459.02 513.36,459.21 518.99,459.37 524.62,459.51 530.26,459.63 535.89,459.73 541.52,459.82 547.15,459.90 552.79,459.97 558.42,460.02 564.05,460.07 569.68,460.11 575.31,460.15 580.95,460.18 586.58,460.20 592.21,460.22 597.84,460.24 603.47,460.25 609.11,460.26 614.74,460.27 620.37,460.27" fill="none" stroke="#00ff00" stroke-width="4.4" stroke-dasharray="7.5 7.5"/>
<polyline clip-path="url(#ax)" points="57.16,461.49 62.79,461.66 68.42,461.82 74.06,461.98 79.69,462.14 85.32,462.30 90.95,462.45 96.59,462.61 102.22,462.76 107.85,462.90 113.48,463.05 119.11,463.05 124.75,463.05 130.38,463.05 136.01,463.04 141.64,463.03 147.27,463.02 152.91,462.99 158.54,462.96 164.17,462.93 169.80,462.89 175.43,462.93 181.07,462.96 186.70,462.98 192.33,462.99 197.96,462.99 203.60,462.98 209.23,462.95 214.86,462.90 220.49,462.84 226.12,462.76 231.76,462.49 237.39,462.21 243.02,461.89 248.65,461.54 254.28,461.15 259.92,460.62 265.55,460.05 271.18,459.42 276.81,458.72 282.44,457.93 288.08,457.06 293.71,456.07 299.34,454.94 304.97,453.65 310.60,452.15 316.24,450.41 321.87,448.36 327.50,445.92 333.13,442.98 338.77,439.39 344.40,435.19 350.03,429.84 355.66,422.91 361.29,413.52 366.93,400.97 372.56,383.80 378.19,359.70 383.82,323.45 389.45,273.43 395.09,202.65 400.72,113.32 406.35,33.68 411.98,18.21 417.61,80.81 423.25,171.82 428.88,250.35 434.51,307.31 440.14,346.67 445.78,373.91 451.41,393.12 457.04,406.99 462.67,417.24 468.30,425.00 473.94,430.99 479.57,435.69 485.20,439.11 490.83,441.81 496.46,443.97 502.10,445.70 507.73,447.09 513.36,448.49 518.99,449.67 524.62,450.67 530.26,451.53 535.89,452.26 541.52,452.90 547.15,453.45 552.79,453.92 558.42,454.34 564.05,454.70 569.68,454.97 575.31,455.20 580.95,455.39 586.58,455.55 592.21,455.69 597.84,455.80 603.47,455.90 609.11,455.97 614.74,456.03 620.37,456.07" fill="none" stroke="#0000ff" stroke-width="3.6" stroke-dasharray="7.5 7.5"/>
<g><path d="M53.16 461.49H61.16M57.16 457.49V465.49" stroke="#0000ff" stroke-width="3.6" fill="none"/><path d="M58.79 461.66H66.79M62.79 457.66V465.66" stroke="#0000ff" stroke-width="3.6" fill="none"/><path d="M64.42 461.82H72.42M68.42 457.82V465.82" stroke="#0000ff" stroke-width="3.6" fill="none"/><path d="M70.06 461.98H78.06M74.06 457.98V465.98" stroke="#0000ff" stroke-width="3.6" fill="none"/><path d="M75.69 462.14H83.69M79.69 458.14V466.14" stroke="#0000ff" stroke-width="3.6" fill="none"/><path d="M81.32 462.30H89.32M85.32 458.30V466.30" stroke="#0000ff" stroke-width="3.6" fill="none"/><path d="M86.95 462.45H94.95M90.95 458.45V466.45" stroke="#0000ff" stroke-width="3.6" fill="none"/><path d="M92.59 462.61H100.59M96.59 458.61V466.61" stroke="#0000ff" stroke-width="3.6" fill="none"/><path d="M98.22 462.76H106.22M102.22 458.76V466.76" stroke="#0000ff" stroke-width="3.6" fill="none"/><path d="M103.85 462.90H111.85M107.85 458.90V466.90" stroke="#0000ff" stroke-width="3.6" fill="none"/><path d="M109.48 463.05H117.48M113.48 459.05V467.05" stroke="#0000ff" stroke-width="3.6" fill="none"/><path d="M115.11 463.05H123.11M119.11 459.05V467.05" stroke="#0000ff" stroke-width="3.6" fill="none"/><path d="M120.75 463.05H128.75M124.75 459.05V467.05" stroke="#0000ff" stroke-width="3.6" fill="none"/><path d="M126.38 463.05H134.38M130.38 459.05V467.05" stroke="#0000ff" stroke-width="3.6" fill="none"/><path d="M132.01 463.04H140.01M136.01 459.04V467.04" stroke="#0000ff" stroke-width="3.6" fill="none"/><path d="M137.64 463.03H145.64M141.64 459.03V467.03" stroke="#0000ff" stroke-width="3.6" fill="none"/><path d="M143.27 463.02H151.27M147.27 459.02V467.02" stroke="#0000ff" stroke-width="3.6" fill="none"/><path d="M148.91 462.99H156.91M152.91 458.99V466.99" stroke="#0000ff" stroke-width="3.6" fill="none"/><path d="M154.54 462.96H162.54M158.54 458.96V466.96" stroke="#0000ff" stroke-width="3.6" fill="none"/><path d="M160.17 462.93H168.17M164.17 458.93V466.93" stroke="#0000ff" stroke-width="3.6" fill="none"/><path d="M165.80 462.89H173.80M169.80 458.89V466.89" stroke="#0000ff" stroke-width="3.6" fill="none"/><path d="M171.43 462.93H179.43M175.43 458.93V466.93" stroke="#0000ff" stroke-width="3.6" fill="none"/><path d="M177.07 462.96H185.07M181.07 458.96V466.96" stroke="#0000ff" stroke-width="3.6" fill="none"/><path d="M182.70 462.98H190.70M186.70 458.98V466.98" stroke="#0000ff" stroke-width="3.6" fill="none"/><path d="M188.33 462.99H196.33M192.33 458.99V466.99" stroke="#0000ff" stroke-width="3.6" fill="none"/><path d="M193.96 462.99H201.96M197.96 458.99V466.99" stroke="#0000ff" stroke-width="3.6" fill="none"/><path d="M199.60 462.98H207.60M203.60 458.98V466.98" stroke="#0000ff" stroke-width="3.6" fill="none"/><path d="M205.23 462.95H213.23M209.23 458.95V466.95" stroke="#0000ff" stroke-width="3.6" fill="none"/><path d="M210.86 462.90H218.86M214.86 458.90V466.90" stroke="#0000ff" stroke-width="3.6" fill="none"/><path d="M216.49 462.84H224.49M220.49 458.84V466.84" stroke="#0000ff" stroke-width="3.6" fill="none"/><path d="M222.12 462.76H230.12M226.12 458.76V466.76" stroke="#0000ff" stroke-width="3.6" fill="none"/><path d="M227.76 462.49H235.76M231.76 458.49V466.49" stroke="#0000ff" stroke-width="3.6" fill="none"/><path d="M233.39 462.21H241.39M237.39 458.21V466.21" stroke="#0000ff" stroke-width="3.6" fill="none"/><path d="M239.02 461.89H247.02M243.02 457.89V465.89" stroke="#0000ff" stroke-width="3.6" fill="none"/><path d="M244.65 461.54H252.65M248.65 457.54V465.54" stroke="#0000ff" stroke-width="3.6" fill="none"/><path d="M250.28 461.15H258.28M254.28 457.15V465.15" stroke="#0000ff" stroke-width="3.6" fill="none"/><path d="M255.92 460.62H263.92M259.92 456.62V464.62" stroke="#0000ff" stroke-width="3.6" fill="none"/><path d="M261.55 460.05H269.55M265.55 456.05V464.05" stroke="#0000ff" stroke-width="3.6" fill="none"/><path d="M267.18 459.42H275.18M271.18 455.42V463.42" stroke="#0000ff" stroke-width="3.6" fill="none"/><path d="M272.81 458.72H280.81M276.81 454.72V462.72" stroke="#0000ff" stroke-width="3.6" fill="none"/><path d="M278.44 457.93H286.44M282.44 453.93V461.93" stroke="#0000ff" stroke-width="3.6" fill="none"/><path d="M284.08 457.06H292.08M288.08 453.06V461.06" stroke="#0000ff" stroke-width="3.6" fill="none"/><path d="M289.71 456.07H297.71M293.71 452.07V460.07" stroke="#0000ff" stroke-width="3.6" fill="none"/><path d="M295.34 454.94H303.34M299.34 450.94V458.94" stroke="#0000ff" stroke-width="3.6" fill="none"/><path d="M300.97 453.65H308.97M304.97 449.65V457.65" stroke="#0000ff" stroke-width="3.6" fill="none"/><path d="M306.60 452.15H314.60M310.60 448.15V456.15" stroke="#0000ff" stroke-width="3.6" fill="none"/><path d="M312.24 450.41H320.24M316.24 446.41V454.41" stroke="#0000ff" stroke-width="3.6" fill="none"/><path d="M317.87 448.36H325.87M321.87 444.36V452.36" stroke="#0000ff" stroke-width="3.6" fill="none"/><path d="M323.50 445.92H331.50M327.50 441.92V449.92" stroke="#0000ff" stroke-width="3.6" fill="none"/><path d="M329.13 442.98H337.13M333.13 438.98V446.98" stroke="#0000ff" stroke-width="3.6" fill="none"/><path d="M334.77 439.39H342.77M338.77 435.39V443.39" stroke="#0000ff" stroke-width="3.6" fill="none"/><path d="M340.40 435.19H348.40M344.40 431.19V439.19" stroke="#0000ff" stroke-width="3.6" fill="none"/><path d="M346.03 429.84H354.03M350.03 425.84V433.84" stroke="#0000ff" stroke-width="3.6" fill="none"/><path d="M351.66 422.91H359.66M355.66 418.91V426.91" stroke="#0000ff" stroke-width="3.6" fill="none"/><path d="M357.29 413.52H365.29M361.29 409.52V417.52" stroke="#0000ff" stroke-width="3.6" fill="none"/><path d="M362.93 400.97H370.93M366.93 396.97V404.97" stroke="#0000ff" stroke-width="3.6" fill="none"/><path d="M368.56 383.80H376.56M372.56 379.80V387.80" stroke="#0000ff" stroke-width="3.6" fill="none"/><path d="M374.19 359.70H382.19M378.19 355.70V363.70" stroke="#0000ff" stroke-width="3.6" fill="none"/><path d="M379.82 323.45H387.82M383.82 319.45V327.45" stroke="#0000ff" stroke-width="3.6" fill="none"/><path d="M385.45 273.43H393.45M389.45 269.43V277.43" stroke="#0000ff" stroke-width="3.6" fill="none"/><path d="M391.09 202.65H399.09M395.09 198.65V206.65" stroke="#0000ff" stroke-width="3.6" fill="none"/><path d="M396.72 113.32H404.72M400.72 109.32V117.32" stroke="#0000ff" stroke-width="3.6" fill="none"/><path d="M402.35 33.68H410.35M406.35 29.68V37.68" stroke="#0000ff" stroke-width="3.6" fill="none"/><path d="M407.98 18.21H415.98M411.98 14.21V22.21" stroke="#0000ff" stroke-width="3.6" fill="none"/><path d="M413.61 80.81H421.61M417.61 76.81V84.81" stroke="#0000ff" stroke-width="3.6" fill="none"/><path d="M419.25 171.82H427.25M423.25 167.82V175.82" stroke="#0000ff" stroke-width="3.6" fill="none"/><path d="M424.88 250.35H432.88M428.88 246.35V254.35" stroke="#0000ff" stroke-width="3.6" fill="none"/><path d="M430.51 307.31H438.51M434.51 303.31V311.31" stroke="#0000ff" stroke-width="3.6" fill="none"/><path d="M436.14 346.67H444.14M440.14 342.67V350.67" stroke="#0000ff" stroke-width="3.6" fill="none"/><path d="M441.78 373.91H449.78M445.78 369.91V377.91" stroke="#0000ff" stroke-width="3.6" fill="none"/><path d="M447.41 393.12H455.41M451.41 389.12V397.12" stroke="#0000ff" stroke-width="3.6" fill="none"/><path d="M453.04 406.99H461.04M457.04 402.99V410.99" stroke="#0000ff" stroke-width="3.6" fill="none"/><path d="M458.67 417.24H466.67M462.67 413.24V421.24" stroke="#0000ff" stroke-width="3.6" fill="none"/><path d="M464.30 425.00H472.30M468.30 421.00V429.00" stroke="#0000ff" stroke-width="3.6" fill="none"/><path d="M469.94 430.99H477.94M473.94 426.99V434.99" stroke="#0000ff" stroke-width="3.6" fill="none"/><path d="M475.57 435.69H483.57M479.57 431.69V439.69" stroke="#0000ff" stroke-width="3.6" fill="none"/><path d="M481.20 439.11H489.20M485.20 435.11V443.11" stroke="#0000ff" stroke-width="3.6" fill="none"/><path d="M486.83 441.81H494.83M490.83 437.81V445.81" stroke="#0000ff" stroke-width="3.6" fill="none"/><path d="M492.46 443.97H500.46M496.46 439.97V447.97" stroke="#0000ff" stroke-width="3.6" fill="none"/><path d="M498.10 445.70H506.10M502.10 441.70V449.70" stroke="#0000ff" stroke-width="3.6" fill="none"/><path d="M503.73 447.09H511.73M507.73 443.09V451.09" stroke="#0000ff" stroke-width="3.6" fill="none"/><path d="M509.36 448.49H517.36M513.36 444.49V452.49" stroke="#0000ff" stroke-width="3.6" fill="none"/><path d="M514.99 449.67H522.99M518.99 445.67V453.67" stroke="#0000ff" stroke-width="3.6" fill="none"/><path d="M520.62 450.67H528.62M524.62 446.67V454.67" stroke="#0000ff" stroke-width="3.6" fill="none"/><path d="M526.26 451.53H534.26M530.26 447.53V455.53" stroke="#0000ff" stroke-width="3.6" fill="none"/><path d="M531.89 452.26H539.89M535.89 448.26V456.26" stroke="#0000ff" stroke-width="3.6" fill="none"/><path d="M537.52 452.90H545.52M541.52 448.90V456.90" stroke="#0000ff" stroke-width="3.6" fill="none"/><path d="M543.15 453.45H551.15M547.15 449.45V457.45" stroke="#0000ff" stroke-width="3.6" fill="none"/><path d="M548.79 453.92H556.79M552.79 449.92V457.92" stroke="#0000ff" stroke-width="3.6" fill="none"/><path d="M554.42 454.34H562.42M558.42 450.34V458.34" stroke="#0000ff" stroke-width="3.6" fill="none"/><path d="M560.05 454.70H568.05M564.05 450.70V458.70" stroke="#0000ff" stroke-width="3.6" fill="none"/><path d="M565.68 454.97H573.68M569.68 450.97V458.97" stroke="#0000ff" stroke-width="3.6" fill="none"/><path d="M571.31 455.20H579.31M575.31 451.20V459.20" stroke="#0000ff" stroke-width="3.6" fill="none"/><path d="M576.95 455.39H584.95M580.95 451.39V459.39" stroke="#0000ff" stroke-width="3.6" fill="none"/><path d="M582.58 455.55H590.58M586.58 451.55V459.55" stroke="#0000ff" stroke-width="3.6" fill="none"/><path d="M588.21 455.69H596.21M592.21 451.69V459.69" stroke="#0000ff" stroke-width="3.6" fill="none"/><path d="M593.84 455.80H601.84M597.84 451.80V459.80" stroke="#0000ff" stroke-width="3.6" fill="none"/><path d="M599.47 455.90H607.47M603.47 451.90V459.90" stroke="#0000ff" stroke-width="3.6" fill="none"/><path d="M605.11 455.97H613.11M609.11 451.97V459.97" stroke="#0000ff" stroke-width="3.6" fill="none"/><path d="M610.74 456.03H618.74M614.74 452.03V460.03" stroke="#0000ff" stroke-width="3.6" fill="none"/><path d="M616.37 456.07H624.37M620.37 452.07V460.07" stroke="#0000ff" stroke-width="3.6" fill="none"/></g>
<polyline clip-path="url(#ax)" points="57.16,461.05 62.79,461.27 68.42,461.48 74.06,461.69 79.69,461.89 85.32,462.09 90.95,462.28 96.59,462.47 102.22,462.65 107.85,462.82 113.48,462.99 119.11,462.94 124.75,462.90 130.38,462.85 136.01,462.79 141.64,462.74 147.27,462.68 152.91,462.62 158.54,462.55 164.17,462.48 169.80,462.40 175.43,462.33 181.07,462.26 186.70,462.19 192.33,462.11 197.96,462.03 203.60,461.93 209.23,461.84 214.86,461.73 220.49,461.62 226.12,461.50 231.76,461.19 237.39,460.85 243.02,460.46 248.65,460.03 254.28,459.55 259.92,459.01 265.55,458.40 271.18,457.72 276.81,456.96 282.44,456.10 288.08,455.26 293.71,454.31 299.34,453.25 304.97,452.05 310.60,450.70 316.24,449.01 321.87,447.09 327.50,444.89 333.13,442.36 338.77,439.45 344.40,436.73 350.03,433.60 355.66,429.73 361.29,426.99 366.93,422.08 372.56,416.50 378.19,410.02 383.82,402.55 389.45,393.28 395.09,383.20 400.72,370.28 406.35,355.30 411.98,335.95 417.61,312.64 423.25,284.03 428.88,249.22 434.51,207.70 440.14,160.45 445.78,108.25 451.41,61.00 457.04,25.90 462.67,13.76 468.30,28.15 473.94,65.05 479.57,113.20 485.20,163.60 490.83,209.50 496.46,249.55 502.10,282.99 507.73,310.75 513.36,332.35 518.99,350.57 524.62,366.10 530.26,377.48 535.89,387.70 541.52,396.70 547.15,403.45 552.79,409.30 558.42,414.93 564.05,419.20 569.68,422.80 575.31,425.95 580.95,428.78 586.58,431.35 592.21,433.15 597.84,435.08 603.47,436.75 609.11,438.28 614.74,439.13 620.37,439.72" fill="none" stroke="#ff00ff" stroke-width="1.5" stroke-dasharray="7.5 7.5"/>
<g><rect x="53.86" y="457.95" width="6.60" height="6.20" fill="none" stroke="#ff00ff" stroke-width="1.8"/><rect x="59.49" y="458.17" width="6.60" height="6.20" fill="none" stroke="#ff00ff" stroke-width="1.8"/><rect x="65.12" y="458.38" width="6.60" height="6.20" fill="none" stroke="#ff00ff" stroke-width="1.8"/><rect x="70.76" y="458.59" width="6.60" height="6.20" fill="none" stroke="#ff00ff" stroke-width="1.8"/><rect x="76.39" y="458.79" width="6.60" height="6.20" fill="none" stroke="#ff00ff" stroke-width="1.8"/><rect x="82.02" y="458.99" width="6.60" height="6.20" fill="none" stroke="#ff00ff" stroke-width="1.8"/><rect x="87.65" y="459.18" width="6.60" height="6.20" fill="none" stroke="#ff00ff" stroke-width="1.8"/><rect x="93.29" y="459.37" width="6.60" height="6.20" fill="none" stroke="#ff00ff" stroke-width="1.8"/><rect x="98.92" y="459.55" width="6.60" height="6.20" fill="none" stroke="#ff00ff" stroke-width="1.8"/><rect x="104.55" y="459.72" width="6.60" height="6.20" fill="none" stroke="#ff00ff" stroke-width="1.8"/><rect x="110.18" y="459.88" width="6.60" height="6.20" fill="none" stroke="#ff00ff" stroke-width="1.8"/><rect x="115.81" y="459.84" width="6.60" height="6.20" fill="none" stroke="#ff00ff" stroke-width="1.8"/><rect x="121.45" y="459.80" width="6.60" height="6.20" fill="none" stroke="#ff00ff" stroke-width="1.8"/><rect x="127.08" y="459.75" width="6.60" height="6.20" fill="none" stroke="#ff00ff" stroke-width="1.8"/><rect x="132.71" y="459.69" width="6.60" height="6.20" fill="none" stroke="#ff00ff" stroke-width="1.8"/><rect x="138.34" y="459.64" width="6.60" height="6.20" fill="none" stroke="#ff00ff" stroke-width="1.8"/><rect x="143.97" y="459.58" width="6.60" height="6.20" fill="none" stroke="#ff00ff" stroke-width="1.8"/><rect x="149.61" y="459.52" width="6.60" height="6.20" fill="none" stroke="#ff00ff" stroke-width="1.8"/><rect x="155.24" y="459.45" width="6.60" height="6.20" fill="none" stroke="#ff00ff" stroke-width="1.8"/><rect x="160.87" y="459.38" width="6.60" height="6.20" fill="none" stroke="#ff00ff" stroke-width="1.8"/><rect x="166.50" y="459.30" width="6.60" height="6.20" fill="none" stroke="#ff00ff" stroke-width="1.8"/><rect x="172.13" y="459.23" width="6.60" height="6.20" fill="none" stroke="#ff00ff" stroke-width="1.8"/><rect x="177.77" y="459.16" width="6.60" height="6.20" fill="none" stroke="#ff00ff" stroke-width="1.8"/><rect x="183.40" y="459.09" width="6.60" height="6.20" fill="none" stroke="#ff00ff" stroke-width="1.8"/><rect x="189.03" y="459.01" width="6.60" height="6.20" fill="none" stroke="#ff00ff" stroke-width="1.8"/><rect x="194.66" y="458.93" width="6.60" height="6.20" fill="none" stroke="#ff00ff" stroke-width="1.8"/><rect x="200.30" y="458.83" width="6.60" height="6.20" fill="none" stroke="#ff00ff" stroke-width="1.8"/><rect x="205.93" y="458.74" width="6.60" height="6.20" fill="none" stroke="#ff00ff" stroke-width="1.8"/><rect x="211.56" y="458.63" width="6.60" height="6.20" fill="none" stroke="#ff00ff" stroke-width="1.8"/><rect x="217.19" y="458.52" width="6.60" height="6.20" fill="none" stroke="#ff00ff" stroke-width="1.8"/><rect x="222.82" y="458.40" width="6.60" height="6.20" fill="none" stroke="#ff00ff" stroke-width="1.8"/><rect x="228.46" y="458.09" width="6.60" height="6.20" fill="none" stroke="#ff00ff" stroke-width="1.8"/><rect x="234.09" y="457.75" width="6.60" height="6.20" fill="none" stroke="#ff00ff" stroke-width="1.8"/><rect x="239.72" y="457.36" width="6.60" height="6.20" fill="none" stroke="#ff00ff" stroke-width="1.8"/><rect x="245.35" y="456.93" width="6.60" height="6.20" fill="none" stroke="#ff00ff" stroke-width="1.8"/><rect x="250.98" y="456.45" width="6.60" height="6.20" fill="none" stroke="#ff00ff" stroke-width="1.8"/><rect x="256.62" y="455.91" width="6.60" height="6.20" fill="none" stroke="#ff00ff" stroke-width="1.8"/><rect x="262.25" y="455.30" width="6.60" height="6.20" fill="none" stroke="#ff00ff" stroke-width="1.8"/><rect x="267.88" y="454.62" width="6.60" height="6.20" fill="none" stroke="#ff00ff" stroke-width="1.8"/><rect x="273.51" y="453.86" width="6.60" height="6.20" fill="none" stroke="#ff00ff" stroke-width="1.8"/><rect x="279.14" y="453.00" width="6.60" height="6.20" fill="none" stroke="#ff00ff" stroke-width="1.8"/><rect x="284.78" y="452.16" width="6.60" height="6.20" fill="none" stroke="#ff00ff" stroke-width="1.8"/><rect x="290.41" y="451.21" width="6.60" height="6.20" fill="none" stroke="#ff00ff" stroke-width="1.8"/><rect x="296.04" y="450.15" width="6.60" height="6.20" fill="none" stroke="#ff00ff" stroke-width="1.8"/><rect x="301.67" y="448.95" width="6.60" height="6.20" fill="none" stroke="#ff00ff" stroke-width="1.8"/><rect x="307.30" y="447.60" width="6.60" height="6.20" fill="none" stroke="#ff00ff" stroke-width="1.8"/><rect x="312.94" y="445.91" width="6.60" height="6.20" fill="none" stroke="#ff00ff" stroke-width="1.8"/><rect x="318.57" y="443.99" width="6.60" height="6.20" fill="none" stroke="#ff00ff" stroke-width="1.8"/><rect x="324.20" y="441.79" width="6.60" height="6.20" fill="none" stroke="#ff00ff" stroke-width="1.8"/><rect x="329.83" y="439.26" width="6.60" height="6.20" fill="none" stroke="#ff00ff" stroke-width="1.8"/><rect x="335.47" y="436.35" width="6.60" height="6.20" fill="none" stroke="#ff00ff" stroke-width="1.8"/><rect x="341.10" y="433.63" width="6.60" height="6.20" fill="none" stroke="#ff00ff" stroke-width="1.8"/><rect x="346.73" y="430.50" width="6.60" height="6.20" fill="none" stroke="#ff00ff" stroke-width="1.8"/><rect x="352.36" y="426.63" width="6.60" height="6.20" fill="none" stroke="#ff00ff" stroke-width="1.8"/><rect x="357.99" y="423.88" width="6.60" height="6.20" fill="none" stroke="#ff00ff" stroke-width="1.8"/><rect x="363.63" y="418.98" width="6.60" height="6.20" fill="none" stroke="#ff00ff" stroke-width="1.8"/><rect x="369.26" y="413.40" width="6.60" height="6.20" fill="none" stroke="#ff00ff" stroke-width="1.8"/><rect x="374.89" y="406.92" width="6.60" height="6.20" fill="none" stroke="#ff00ff" stroke-width="1.8"/><rect x="380.52" y="399.45" width="6.60" height="6.20" fill="none" stroke="#ff00ff" stroke-width="1.8"/><rect x="386.15" y="390.18" width="6.60" height="6.20" fill="none" stroke="#ff00ff" stroke-width="1.8"/><rect x="391.79" y="380.10" width="6.60" height="6.20" fill="none" stroke="#ff00ff" stroke-width="1.8"/><rect x="397.42" y="367.18" width="6.60" height="6.20" fill="none" stroke="#ff00ff" stroke-width="1.8"/><rect x="403.05" y="352.20" width="6.60" height="6.20" fill="none" stroke="#ff00ff" stroke-width="1.8"/><rect x="408.68" y="332.85" width="6.60" height="6.20" fill="none" stroke="#ff00ff" stroke-width="1.8"/><rect x="414.31" y="309.54" width="6.60" height="6.20" fill="none" stroke="#ff00ff" stroke-width="1.8"/><rect x="419.95" y="280.93" width="6.60" height="6.20" fill="none" stroke="#ff00ff" stroke-width="1.8"/><rect x="425.58" y="246.12" width="6.60" height="6.20" fill="none" stroke="#ff00ff" stroke-width="1.8"/><rect x="431.21" y="204.60" width="6.60" height="6.20" fill="none" stroke="#ff00ff" stroke-width="1.8"/><rect x="436.84" y="157.35" width="6.60" height="6.20" fill="none" stroke="#ff00ff" stroke-width="1.8"/><rect x="442.48" y="105.15" width="6.60" height="6.20" fill="none" stroke="#ff00ff" stroke-width="1.8"/><rect x="448.11" y="57.90" width="6.60" height="6.20" fill="none" stroke="#ff00ff" stroke-width="1.8"/><rect x="453.74" y="22.80" width="6.60" height="6.20" fill="none" stroke="#ff00ff" stroke-width="1.8"/><rect x="459.37" y="10.66" width="6.60" height="6.20" fill="none" stroke="#ff00ff" stroke-width="1.8"/><rect x="465.00" y="25.05" width="6.60" height="6.20" fill="none" stroke="#ff00ff" stroke-width="1.8"/><rect x="470.64" y="61.95" width="6.60" height="6.20" fill="none" stroke="#ff00ff" stroke-width="1.8"/><rect x="476.27" y="110.10" width="6.60" height="6.20" fill="none" stroke="#ff00ff" stroke-width="1.8"/><rect x="481.90" y="160.50" width="6.60" height="6.20" fill="none" stroke="#ff00ff" stroke-width="1.8"/><rect x="487.53" y="206.40" width="6.60" height="6.20" fill="none" stroke="#ff00ff" stroke-width="1.8"/><rect x="493.16" y="246.45" width="6.60" height="6.20" fill="none" stroke="#ff00ff" stroke-width="1.8"/><rect x="498.80" y="279.88" width="6.60" height="6.20" fill="none" stroke="#ff00ff" stroke-width="1.8"/><rect x="504.43" y="307.65" width="6.60" height="6.20" fill="none" stroke="#ff00ff" stroke-width="1.8"/><rect x="510.06" y="329.25" width="6.60" height="6.20" fill="none" stroke="#ff00ff" stroke-width="1.8"/><rect x="515.69" y="347.47" width="6.60" height="6.20" fill="none" stroke="#ff00ff" stroke-width="1.8"/><rect x="521.32" y="363.00" width="6.60" height="6.20" fill="none" stroke="#ff00ff" stroke-width="1.8"/><rect x="526.96" y="374.38" width="6.60" height="6.20" fill="none" stroke="#ff00ff" stroke-width="1.8"/><rect x="532.59" y="384.60" width="6.60" height="6.20" fill="none" stroke="#ff00ff" stroke-width="1.8"/><rect x="538.22" y="393.60" width="6.60" height="6.20" fill="none" stroke="#ff00ff" stroke-width="1.8"/><rect x="543.85" y="400.35" width="6.60" height="6.20" fill="none" stroke="#ff00ff" stroke-width="1.8"/><rect x="549.49" y="406.20" width="6.60" height="6.20" fill="none" stroke="#ff00ff" stroke-width="1.8"/><rect x="555.12" y="411.82" width="6.60" height="6.20" fill="none" stroke="#ff00ff" stroke-width="1.8"/><rect x="560.75" y="416.10" width="6.60" height="6.20" fill="none" stroke="#ff00ff" stroke-width="1.8"/><rect x="566.38" y="419.70" width="6.60" height="6.20" fill="none" stroke="#ff00ff" stroke-width="1.8"/><rect x="572.01" y="422.85" width="6.60" height="6.20" fill="none" stroke="#ff00ff" stroke-width="1.8"/><rect x="577.65" y="425.68" width="6.60" height="6.20" fill="none" stroke="#ff00ff" stroke-width="1.8"/><rect x="583.28" y="428.25" width="6.60" height="6.20" fill="none" stroke="#ff00ff" stroke-width="1.8"/><rect x="588.91" y="430.05" width="6.60" height="6.20" fill="none" stroke="#ff00ff" stroke-width="1.8"/><rect x="594.54" y="431.98" width="6.60" height="6.20" fill="none" stroke="#ff00ff" stroke-width="1.8"/><rect x="600.17" y="433.65" width="6.60" height="6.20" fill="none" stroke="#ff00ff" stroke-width="1.8"/><rect x="605.81" y="435.18" width="6.60" height="6.20" fill="none" stroke="#ff00ff" stroke-width="1.8"/><rect x="611.44" y="436.03" width="6.60" height="6.20" fill="none" stroke="#ff00ff" stroke-width="1.8"/><rect x="617.07" y="436.62" width="6.60" height="6.20" fill="none" stroke="#ff00ff" stroke-width="1.8"/></g>
</g>
<rect x="199.7" y="187.9" width="163.10000000000002" height="127.1" fill="#fff" stroke="#000" stroke-width="1.4"/>
<g transform="scale(1.62 1)">
<line x1="130.62" y1="201.9" x2="168.89" y2="201.9" stroke="#ff0000" stroke-width="3.6" stroke-dasharray="7.65 7.65"/>
<path d="M145.36 204.40L154.02 204.40L149.69 196.90Z" fill="none" stroke="#ff0000" stroke-width="4.2" stroke-linejoin="miter" stroke-miterlimit="10"/>
<line x1="130.62" y1="226.65" x2="168.89" y2="226.65" stroke="#00ffff" stroke-width="3.8" stroke-dasharray="7.65 7.65"/>
<circle cx="149.69" cy="226.65" r="3.75" fill="none" stroke="#00ffff" stroke-width="5.0"/>
<line x1="130.62" y1="251.4" x2="168.89" y2="251.4" stroke="#00ff00" stroke-width="4.4" stroke-dasharray="7.65 7.65"/>
<line x1="130.62" y1="276.15" x2="168.89" y2="276.15" stroke="#0000ff" stroke-width="3.6" stroke-dasharray="7.65 7.65"/>
<path d="M145.69 276.15H153.69M149.69 272.15V280.15" stroke="#0000ff" stroke-width="3.6" fill="none"/>
<line x1="130.62" y1="300.9" x2="168.89" y2="300.9" stroke="#ff00ff" stroke-width="1.5" stroke-dasharray="7.65 7.65"/>
<rect x="146.39" y="297.80" width="6.60" height="6.20" fill="none" stroke="#ff00ff" stroke-width="1.8"/>
</g>
<text class="sym" transform="translate(279.6 204.20) scale(1.45 1)" font-size="14.5">λ</text>
<text transform="translate(280.5 204.20) scale(1.67 1)" font-size="12.4"><tspan x="5.8" dy="6.5" font-size="10.3">2</tspan><tspan x="11.53" dy="-6.5"> = 0.0</tspan></text>
<text class="sym" transform="translate(279.6 228.95) scale(1.45 1)" font-size="14.5">λ</text>
<text transform="translate(280.5 228.95) scale(1.67 1)" font-size="12.4"><tspan x="5.8" dy="6.5" font-size="10.3">2</tspan><tspan x="11.53" dy="-6.5"> = 0.1</tspan></text>
<text class="sym" transform="translate(279.6 253.70) scale(1.45 1)" font-size="14.5">λ</text>
<text transform="translate(280.5 253.70) scale(1.67 1)" font-size="12.4"><tspan x="5.8" dy="6.5" font-size="10.3">2</tspan><tspan x="11.53" dy="-6.5"> = 0.3</tspan></text>
<text class="sym" transform="translate(279.6 278.45) scale(1.45 1)" font-size="14.5">λ</text>
<text transform="translate(280.5 278.45) scale(1.67 1)" font-size="12.4"><tspan x="5.8" dy="6.5" font-size="10.3">2</tspan><tspan x="11.53" dy="-6.5"> = 0.5</tspan></text>
<text class="sym" transform="translate(279.6 303.20) scale(1.45 1)" font-size="14.5">λ</text>
<text transform="translate(280.5 303.20) scale(1.67 1)" font-size="12.4"><tspan x="5.8" dy="6.5" font-size="10.3">2</tspan><tspan x="11.53" dy="-6.5"> = 1.0</tspan></text>
</svg></body></html>
